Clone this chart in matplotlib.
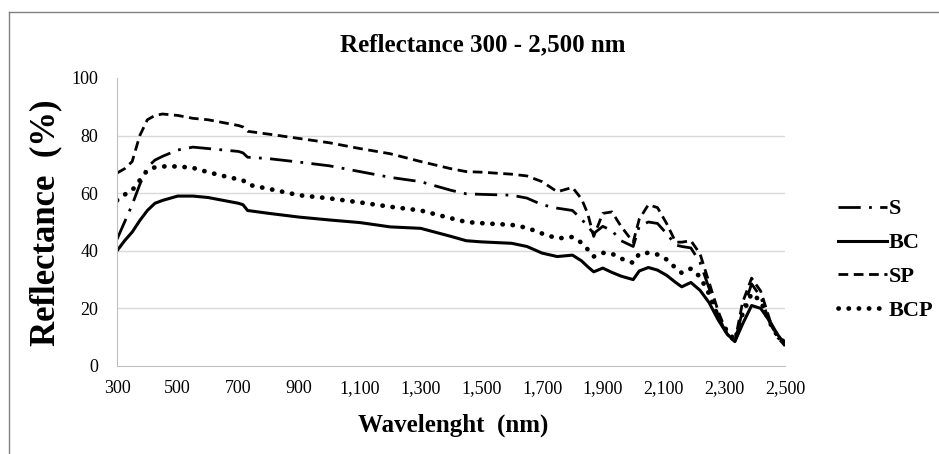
import matplotlib
matplotlib.use("Agg")
import matplotlib.pyplot as plt
from matplotlib.lines import Line2D

wavelength = [300, 325, 350, 375, 400, 425, 450, 500, 550, 600, 650, 700, 715, 730,
              800, 900, 1000, 1100, 1200, 1300, 1400, 1450, 1500, 1600, 1650, 1700,
              1750, 1800, 1830, 1850, 1870, 1900, 1930, 1960, 2000, 2020, 2050, 2080,
              2110, 2140, 2160, 2190, 2220, 2250, 2280, 2310, 2335, 2360, 2390, 2420,
              2450, 2475, 2500]

S = [44, 50, 56, 63, 69, 71.5, 72.8, 75, 76, 75.5, 75, 74.5, 74, 72.5,
     72, 70.8, 69.5, 67.5, 65.5, 64, 61, 59.8, 59.6, 59.3, 58.3, 56,
     54.8, 54, 51, 48.5, 46, 48.5, 47, 43.5, 41.5, 48.5, 50, 49.5,
     46, 42, 41.5, 41, 36, 27, 17.5, 10.5, 8.5, 19, 28.5, 24,
     15, 10, 7]

BC = [40, 43.5, 46.5, 50.5, 54, 56.5, 57.5, 59, 59, 58.5, 57.5, 56.5, 56, 54,
      53, 51.7, 50.7, 49.8, 48.3, 47.8, 45, 43.5, 43.1, 42.6, 41.5, 39.2,
      38, 38.5, 36.5, 34.5, 32.7, 34, 32.5, 31.2, 30, 33, 34.2, 33.3,
      31.5, 29, 27.5, 29, 26.3, 22, 16, 11, 8.5, 14.5, 21, 20,
      15.5, 11, 7.5]

SP = [67, 68.5, 71, 80, 85.5, 87, 87.5, 87, 86, 85.5, 84.5, 83.5, 83, 81.5,
      80.5, 79, 77.5, 75.5, 73.7, 71, 68.5, 67.5, 67.3, 66.6, 66, 64,
      60.5, 62, 58, 53, 45, 53, 53.5, 48.5, 43, 51, 56, 55,
      49.5, 43, 43, 43.5, 39, 29, 19, 11, 8.5, 22, 30.5, 26,
      16, 10, 7]

BCP = [57.5, 59.5, 61, 64.5, 68, 69, 69.3, 69.3, 68.8, 67.3, 66, 64.8, 64.5, 63,
       61.5, 59.3, 58.2, 56.8, 55.3, 54, 51.3, 50, 49.6, 49, 48, 46,
       44.3, 44.8, 42.8, 40.5, 38, 39.3, 39, 37.3, 35.8, 39, 39.3, 38.7,
       37, 34, 32.3, 33.8, 31, 25, 17, 12, 9, 18, 25.2, 22.5,
       15, 10.5, 8]

xticks = [300, 500, 700, 900, 1100, 1300, 1500, 1700, 1900, 2100, 2300, 2500]
yticks = [0, 20, 40, 60, 80, 100]

serif = ["Liberation Serif", "DejaVu Serif"]

fig = plt.figure(figsize=(9.39, 4.54), dpi=100)
ax = fig.add_axes([117/939, 1-366/454, (785-117)/939, (366-78)/454])

ax.plot(wavelength, S, color="black", lw=2, linestyle=(0, (8, 3, 1, 3)), label="S")
ax.plot(wavelength, BC, color="black", lw=2.2, linestyle="-", label="BC")
ax.plot(wavelength, SP, color="black", lw=2, linestyle=(0, (3.5, 2)), label="SP")
ax.plot(wavelength, BCP, color="black", lw=3.4, linestyle=(0, (0.05, 2.1)),
        dash_capstyle="round", label="BCP")

ax.set_xlim(300, 2500)
ax.set_ylim(0, 100)
ax.set_xticks(xticks)
ax.set_xticklabels([f"{t:,}" for t in xticks], fontfamily=serif, fontsize=13)
ax.set_yticks(yticks)
ax.set_yticklabels([str(t) for t in yticks], fontfamily=serif, fontsize=13)
ax.tick_params(axis="y", length=0, pad=13.5)
ax.tick_params(axis="x", length=0, pad=10)

for g in [20, 40, 60, 80]:
    ax.axhline(g, color="#d9d9d9", lw=1, zorder=0)

for side in ["top", "right"]:
    ax.spines[side].set_visible(False)
ax.spines["left"].set_color("#bfbfbf")
ax.spines["bottom"].set_color("#bfbfbf")

fig.text(453/939, 1-425/454, "Wavelenght  (nm)", ha="center", va="center",
         fontfamily=serif, fontweight="bold", fontsize=18)
fig.text(46/939, 1-223/454, "Reflectance  (%)", ha="center", va="center", rotation=90,
         fontfamily=serif, fontweight="bold", fontsize=25)

fig.text(483/939, 1-45/454, "Reflectance 300 - 2,500 nm", ha="center", va="center",
         fontfamily=serif, fontweight="bold", fontsize=18)

leg = ax.legend(loc="center left", bbox_to_anchor=((838-117)/668, (366-260)/288),
                frameon=False, borderpad=0, borderaxespad=0,
                prop={"family": serif, "weight": "bold", "size": 16},
                handlelength=2.2, handletextpad=0.1, labelspacing=0.6)

# outer chart border (top and left visible)
fig.add_artist(Line2D([9/939, 1.0], [1-12/454, 1-12/454], transform=fig.transFigure,
                      color="#808080", lw=1))
fig.add_artist(Line2D([9/939, 9/939], [0, 1-12/454], transform=fig.transFigure,
                      color="#808080", lw=1))

fig.savefig("out.png", dpi=100)
